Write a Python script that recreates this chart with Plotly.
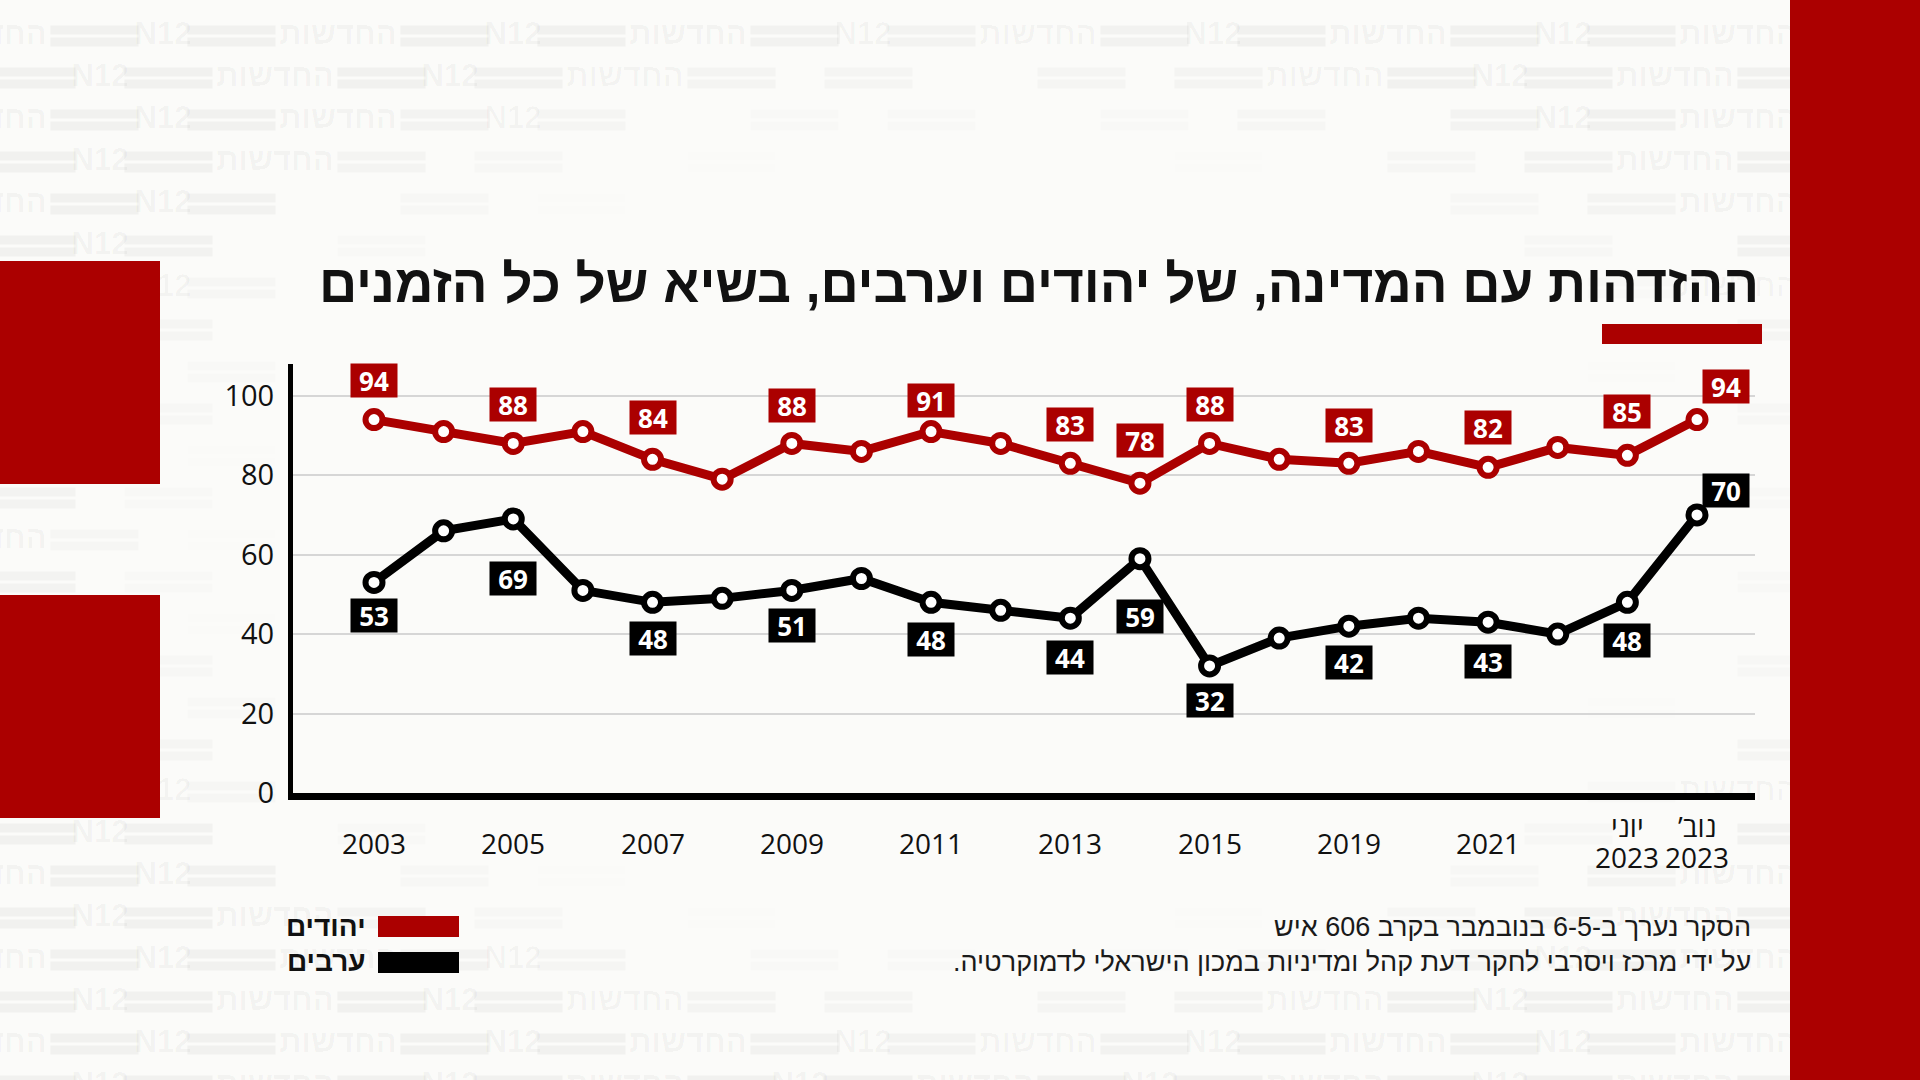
import math
import plotly.graph_objects as go

# ---------------- data ----------------
categories = ["2003", "2004", "2005", "2006", "2007", "2008", "2009", "2010", "2011", "2012",
              "2013", "2014", "2015", "2017", "2019", "2020", "2021", "2022", "יוני 2023", "נוב' 2023"]
jews = [94, 91, 88, 91, 84, 79, 88, 86, 91, 88, 83, 78, 88, 84, 83, 86, 82, 87, 85, 94]
arabs = [53, 66, 69, 51, 48, 49, 51, 54, 48, 46, 44, 59, 32, 39, 42, 44, 43, 40, 48, 70]
labeled_points = [0, 2, 4, 6, 8, 10, 11, 12, 14, 16, 18, 19]
tick_labels = ["2003", "", "2005", "", "2007", "", "2009", "", "2011", "",
               "2013", "", "2015", "", "2019", "", "2021", "", "יוני|2023", "נוב’\u200f|2023"]
y_ticks = [0, 20, 40, 60, 80, 100]
series_names = ["יהודים", "ערבים"]
title_text = "ההזדהות עם המדינה, של יהודים וערבים, בשיא של כל הזמנים"
note_lines = ["הסקר נערך ב-6-5 בנובמבר בקרב 606 איש",
              "על ידי מרכז ויסרבי לחקר דעת קהל ומדיניות במכון הישראלי לדמוקרטיה.\u200f"]

# ---------------- style / layout ----------------
RED = "#ab0000"
BLACK = "#000000"
BG = "#fbfbf9"
NUM_FONT = "Open Sans, Liberation Sans, DejaVu Sans"
HEB_BOLD = "Liberation Sans, DejaVu Sans"
HEB_REG = "Liberation Sans, DejaVu Sans"
W, H = 1920, 1080
PLOT_L, PLOT_R, PLOT_T, PLOT_B = 293, 1755, 364, 793
FIRST_X_PX, LAST_X_PX = 374, 1697
Y_MAX = 108

# label offsets in pixels (per point index)
red_label_dy = [39, 0, 39, 0, 42, 0, 38, 0, 31, 0, 39, 43, 39, 0, 38, 0, 40, 0, 44, 33]
black_label_dy = [-33, 0, -60, 0, -36, 0, -35, 0, -37, 0, -39, -58, -35, 0, -36, 0, -39, 0, -38, 24]
label_dx = [0] * 19 + [29]

n = len(categories)
idx = list(range(n))
unit = (LAST_X_PX - FIRST_X_PX) / (n - 1)
x_range = [-(FIRST_X_PX - PLOT_L) / unit, (n - 1) + (PLOT_R - LAST_X_PX) / unit]


def px(x):
    return x / W


def py(y):
    return 1 - y / H


fig = go.Figure()

# ---------------- watermark background (full page subplot) ----------------
def fade(x, y):
    d = math.hypot((x - 967) / 800, (y - 540) / 420)
    t = min(max((d - 0.9) / 0.35, 0), 1)
    return f"rgba(0,0,0,{0.038 * t:.4f})"


wm_tx, wm_ty, wm_t, wm_tc = [], [], [], []
wm_bx, wm_by, wm_bc = [], [], []
for r in range(26):
    yc = 36 + 42 * r
    s0 = 63 if r % 2 == 0 else 0
    for k in range(-1, 6):
        s = s0 + 350 * k
        for bx in (s + 31.5, s + 168.5):
            for dy in (-6, 6):
                wm_bx.append(bx)
                wm_by.append(yc + dy)
                wm_bc.append(fade(bx, yc))
        wm_tx += [s + 100, s + 275]
        wm_ty += [yc, yc]
        wm_t += ["N12", "החדשות"]
        wm_tc += [fade(s + 100, yc), fade(s + 275, yc)]

fig.add_trace(go.Scatter(x=wm_bx, y=wm_by, mode="markers", hoverinfo="skip",
                         marker=dict(symbol="line-ew", size=63,
                                     line=dict(width=9, color=wm_bc)),
                         xaxis="x", yaxis="y"))
fig.add_trace(go.Scatter(x=wm_tx, y=wm_ty, mode="text", text=wm_t, hoverinfo="skip",
                         textposition="middle center",
                         textfont=dict(family="Liberation Sans, DejaVu Sans", size=31,
                                       weight="bold", color=wm_tc),
                         xaxis="x", yaxis="y"))

# ---------------- main series ----------------
for vals, col in ((jews, RED), (arabs, BLACK)):
    fig.add_trace(go.Scatter(
        x=idx, y=vals, mode="lines+markers", hoverinfo="skip",
        line=dict(color=col, width=9),
        marker=dict(size=17, color="white", line=dict(color=col, width=6)),
        xaxis="x2", yaxis="y2"))

annotations = []
for i in labeled_points:
    for vals, col, dys in ((jews, RED, red_label_dy), (arabs, BLACK, black_label_dy)):
        annotations.append(dict(
            x=i, y=vals[i], xref="x2", yref="y2", text=str(vals[i]), showarrow=False,
            xshift=label_dx[i], yshift=dys[i], bgcolor=col, borderpad=0, width=46, height=33,
            align="center", valign="middle",
            font=dict(family=NUM_FONT, size=26, color="white", weight="bold")))

# x tick labels
for i, t in enumerate(tick_labels):
    if not t:
        continue
    parts = t.split("|")
    centers = [843] if len(parts) == 1 else [826, 857]
    for part, c in zip(parts, centers):
        annotations.append(dict(
            x=i, y=py(c), xref="x2", yref="paper", text=part, showarrow=False,
            xanchor="center", yanchor="middle",
            font=dict(family=NUM_FONT, size=28, color="#111111")))

# title
annotations.append(dict(x=px(1761), y=py(283), xref="paper", yref="paper", text=title_text,
                        showarrow=False, xanchor="right", yanchor="middle",
                        font=dict(family=HEB_BOLD, size=53, color="#111111", weight="bold")))
# legend texts
for name, c in zip(series_names, (926, 961)):
    annotations.append(dict(x=px(368), y=py(c), xref="paper", yref="paper", text=name,
                            showarrow=False, xanchor="right", yanchor="middle",
                            font=dict(family=HEB_BOLD, size=28, color="#111111", weight="bold")))
# source notes
for line, c in zip(note_lines, (927, 962)):
    annotations.append(dict(x=px(1753), y=py(c), xref="paper", yref="paper", text=line,
                            showarrow=False, xanchor="right", yanchor="middle",
                            font=dict(family=HEB_REG, size=27, color="#1a1a1a")))

shapes = [
    dict(type="rect", xref="paper", yref="paper", x0=px(1790), x1=1, y0=0, y1=1,
         fillcolor=RED, line_width=0, layer="above"),
    dict(type="rect", xref="paper", yref="paper", x0=0, x1=px(160), y0=py(484), y1=py(261),
         fillcolor=RED, line_width=0, layer="above"),
    dict(type="rect", xref="paper", yref="paper", x0=0, x1=px(160), y0=py(818), y1=py(595),
         fillcolor=RED, line_width=0, layer="above"),
    dict(type="rect", xref="paper", yref="paper", x0=px(1602), x1=px(1762), y0=py(344), y1=py(324),
         fillcolor=RED, line_width=0, layer="above"),
    dict(type="rect", xref="paper", yref="paper", x0=px(378), x1=px(459), y0=py(937), y1=py(916),
         fillcolor=RED, line_width=0, layer="above"),
    dict(type="rect", xref="paper", yref="paper", x0=px(378), x1=px(459), y0=py(973), y1=py(952),
         fillcolor=BLACK, line_width=0, layer="above"),
]

fig.update_layout(
    width=W, height=H, autosize=False,
    margin=dict(l=0, r=0, t=0, b=0, pad=0, autoexpand=False),
    paper_bgcolor=BG, plot_bgcolor="rgba(0,0,0,0)",
    showlegend=False, hovermode=False,
    annotations=annotations, shapes=shapes,
    xaxis=dict(domain=[0, 1], range=[0, W], visible=False, fixedrange=True, automargin=False),
    yaxis=dict(domain=[0, 1], range=[H, 0], visible=False, fixedrange=True, automargin=False),
    xaxis2=dict(domain=[px(PLOT_L), px(PLOT_R)], range=x_range, anchor="y2", automargin=False,
                showticklabels=False, showgrid=False, zeroline=False,
                showline=True, linecolor=BLACK, linewidth=7, ticks=""),
    yaxis2=dict(domain=[py(PLOT_B), py(PLOT_T)], range=[0, Y_MAX], anchor="x2", automargin=False,
                tickvals=y_ticks, showgrid=True, gridcolor="#d6d6d6", gridwidth=2,
                zeroline=False, showline=True, linecolor=BLACK, linewidth=5, ticks="",
                ticklabelstandoff=8,
                tickfont=dict(family=NUM_FONT, size=29, color="#111111")),
)

fig.write_html("out.html", config={"staticPlot": True},
               post_script="document.body.style.margin='0';document.body.style.overflow='hidden';")
